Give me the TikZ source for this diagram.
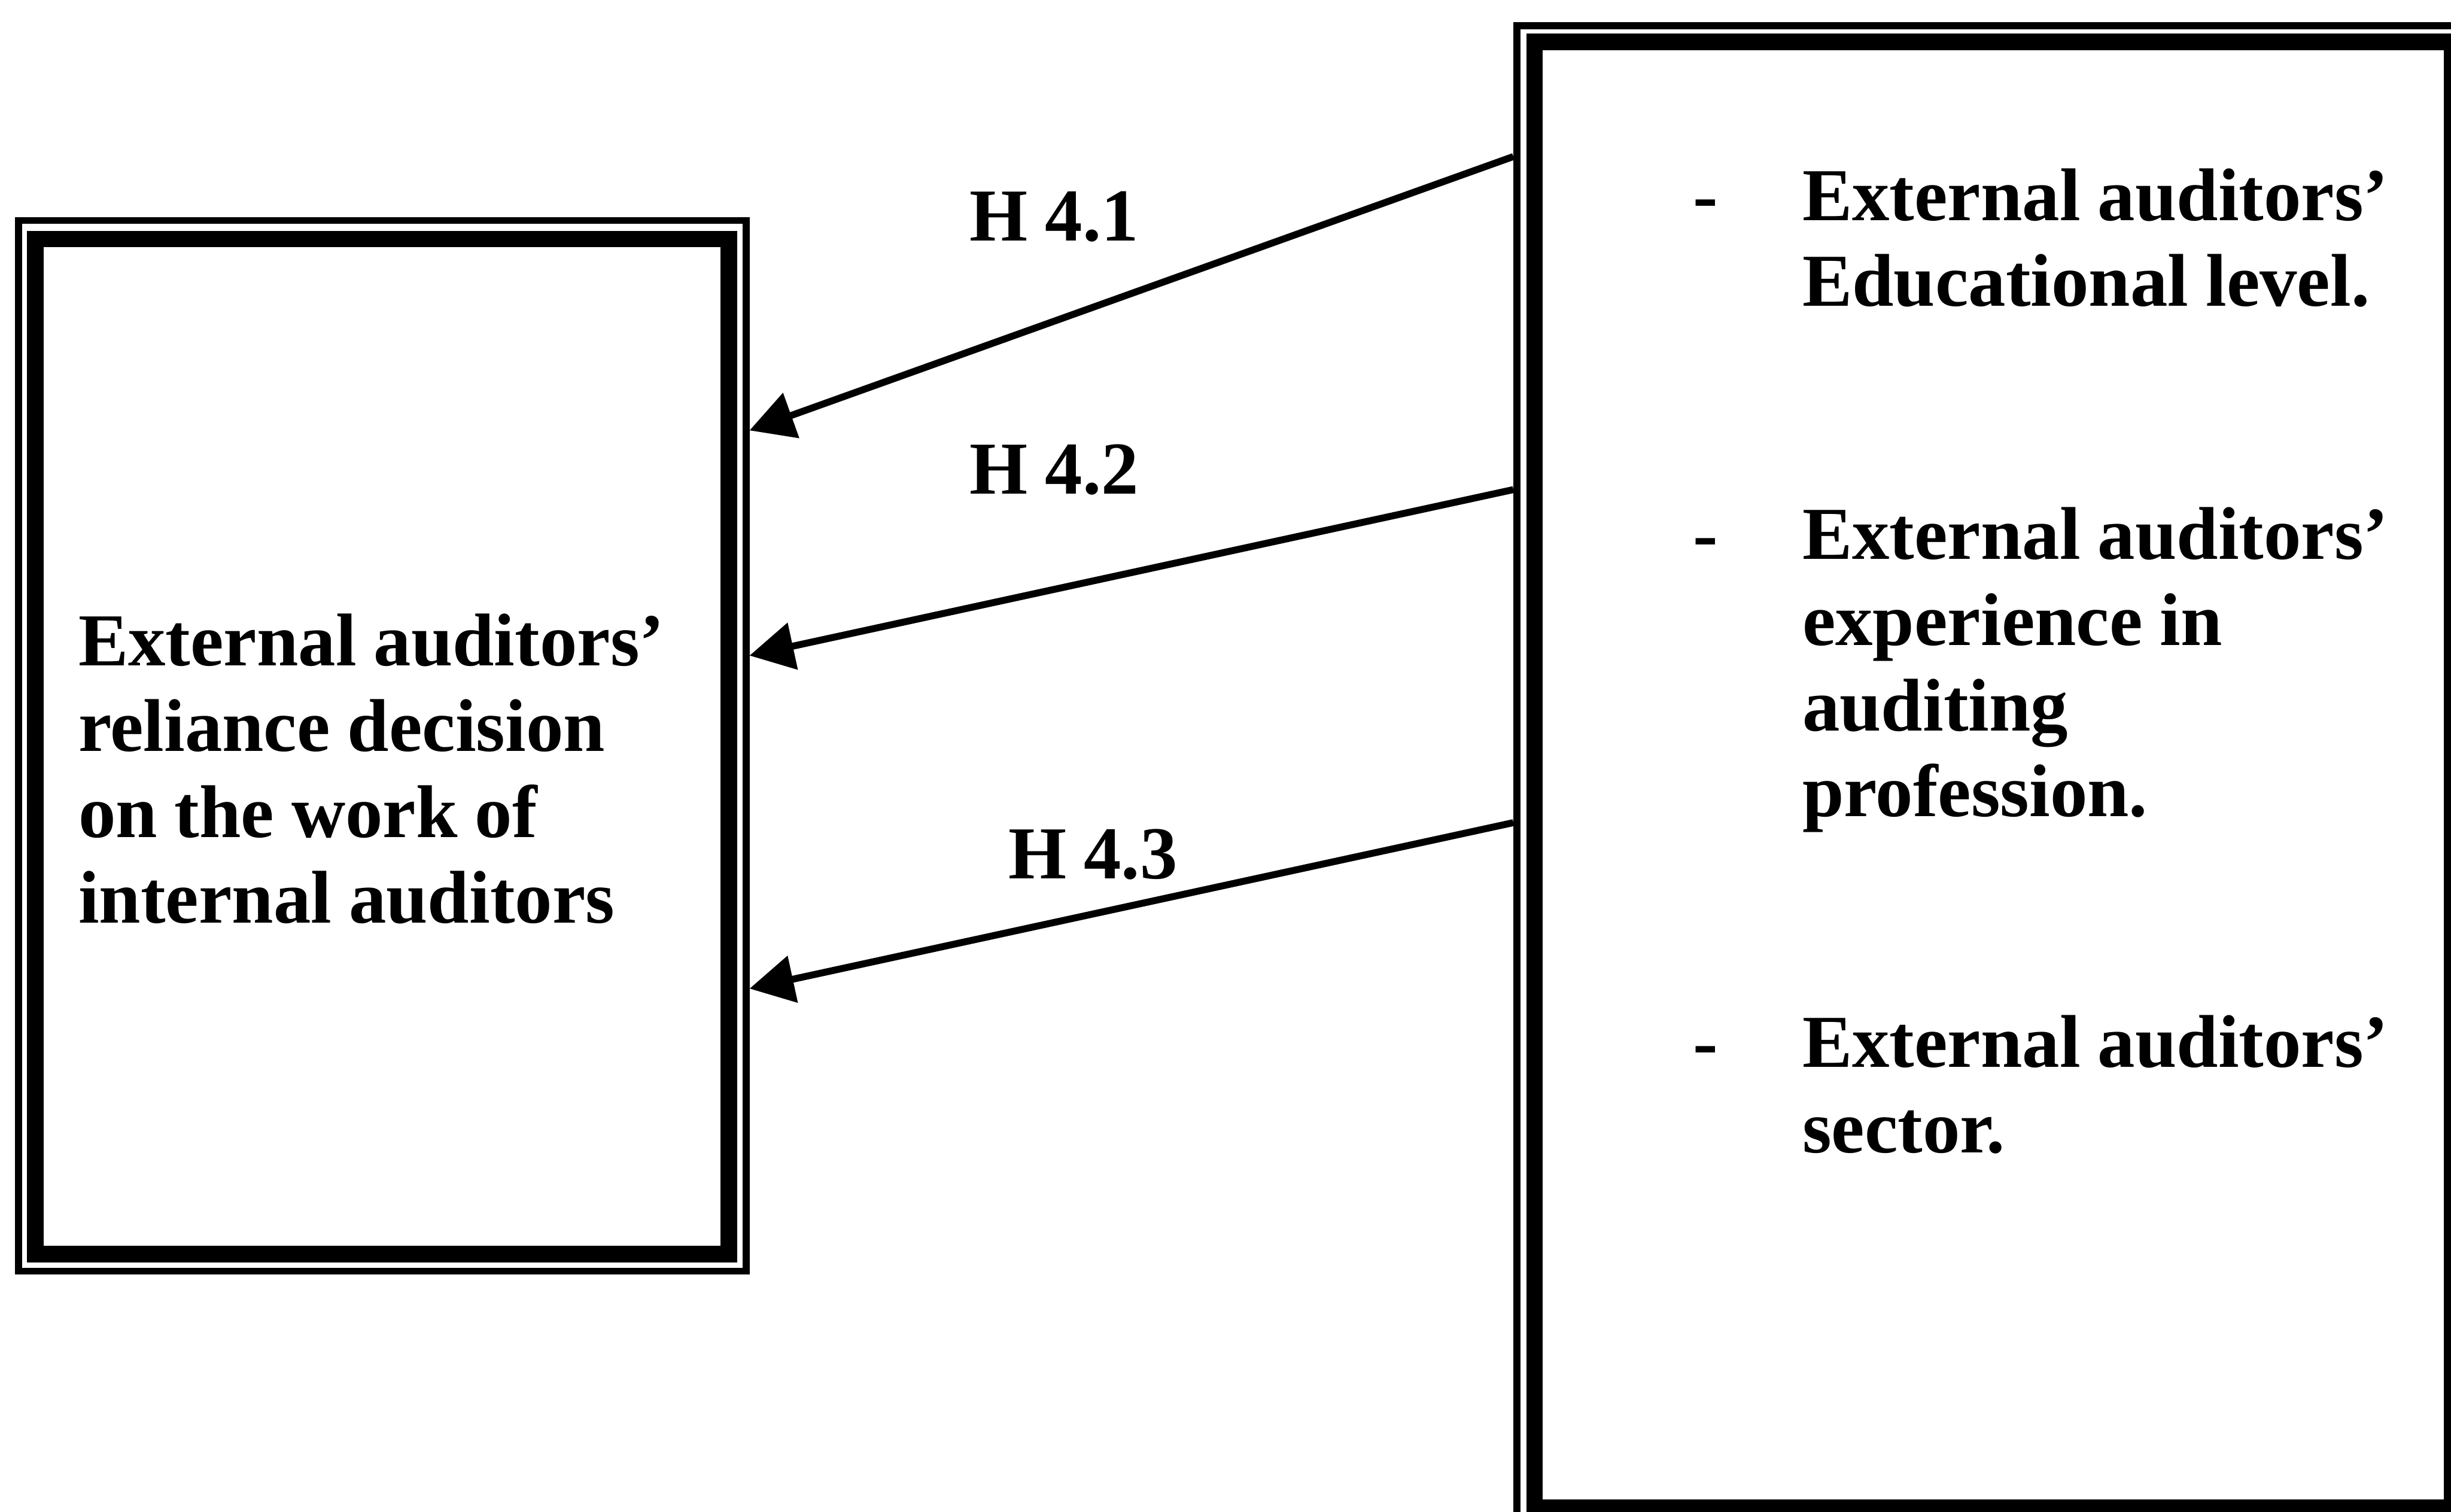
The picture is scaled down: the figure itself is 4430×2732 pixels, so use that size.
\documentclass[tikz,border=0pt]{standalone}
\usepackage{fontspec}
\setmainfont{Liberation Serif}[WordSpace={0.93,0.3,0.2}]
\usetikzlibrary{arrows.meta,calc}

\newcommand{\labelfont}{\fontsize{38.4}{44.1}\selectfont\bfseries}

\begin{document}
\begin{tikzpicture}[x=0.01cm,y=-0.01cm,
  frame/.style={draw, line width=0.125cm, rectangle, inner sep=0pt},
  heavy/.style={line width=0.3cm},
  link/.style={line width=0.125cm, -{Triangle[length=0.8cm,width=0.84cm]}},
  txt/.style={font=\labelfont, inner sep=0pt,
              anchor=base west, align=flush left, text width=11.5cm},
  hyp/.style={font=\labelfont, inner sep=0pt, anchor=base west}]
  \useasboundingbox (0,0) rectangle (4430,2732);
  \clip (0,0) rectangle (4430,2732);

  % left box: thin outer frame and heavy inner frame
  \node[frame, minimum width=13.14cm, minimum height=18.98cm] (lframe) at (691,1348) {};
  \draw[heavy] (64,432) rectangle (1317,2267);

  % right box: thin outer frame and heavy inner frame
  \node[frame, minimum width=17.21cm, minimum height=27.09cm] (rframe) at (3602.5,1401.5) {};
  \draw[heavy] (2773.5,76) rectangle (4432,2725);

  % dependent variable
  \node[txt] (dep) at (141,1203)
    {External auditors’\\reliance decision\\on the work of\\internal auditors};

  % independent variables
  \node[hyp] (d1) at (3060,398) {-};
  \node[txt] (v1) at (3257,398) {External auditors’\\Educational level.};
  \node[hyp] (d2) at (3060,1011) {-};
  \node[txt] (v2) at (3257,1011) {External auditors’\\experience in\\auditing\\profession.};
  \node[hyp] (d3) at (3060,1929) {-};
  \node[txt] (v3) at (3257,1929) {External auditors’\\sector.};

  % hypotheses
  \draw[link] (rframe.west |- 0,283) -- (lframe.east |- 0,778);
  \draw[link] (rframe.west |- 0,885) -- (lframe.east |- 0,1185);
  \draw[link] (rframe.west |- 0,1487) -- (lframe.east |- 0,1787);

  \node[hyp] (h1) at (1752,435) {H 4.1};
  \node[hyp] (h2) at (1752,893) {H 4.2};
  \node[hyp] (h3) at (1822,1588) {H 4.3};
\end{tikzpicture}
\end{document}
